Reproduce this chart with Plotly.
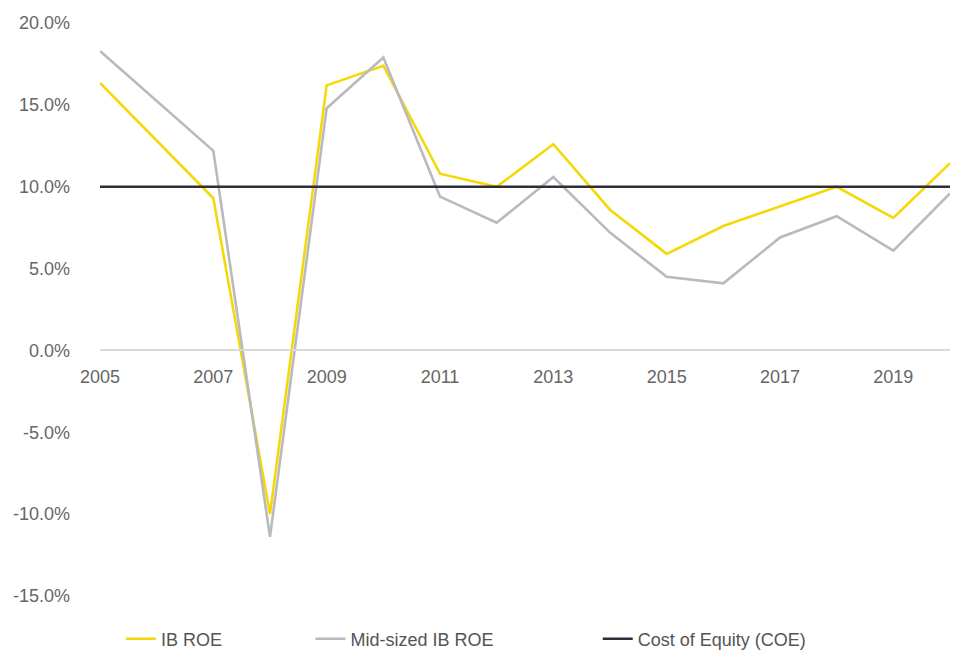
import plotly.graph_objects as go

years = [2005, 2007, 2008, 2009, 2010, 2011, 2012, 2013, 2014, 2015, 2016, 2017, 2018, 2019, 2020]
ib_roe = [16.35, 9.3, -10.0, 16.2, 17.4, 10.8, 10.0, 12.6, 8.6, 5.9, 7.6, 8.8, 10.0, 8.1, 11.45]
mid_roe = [18.3, 12.2, -11.4, 14.8, 17.9, 9.4, 7.8, 10.6, 7.2, 4.5, 4.1, 6.9, 8.2, 6.1, 9.6]
coe_years = [2005, 2020]
coe = [10.0, 10.0]
ytick_vals = [-15, -10, -5, 0, 5, 10, 15, 20]
ytick_text = ["-15.0%", "-10.0%", "-5.0%", "0.0%", "5.0%", "10.0%", "15.0%", "20.0%"]
xtick_vals = [2005, 2007, 2009, 2011, 2013, 2015, 2017, 2019]

YMIN, YMAX = -15.5, 20.5

fig = go.Figure()
fig.add_trace(go.Scatter(x=years, y=ib_roe, mode="lines", name="IB ROE",
                         line=dict(color="#F5D80A", width=2.6), legend="legend"))
fig.add_trace(go.Scatter(x=years, y=mid_roe, mode="lines", name="Mid-sized IB ROE",
                         line=dict(color="#B8BABD", width=2.6), legend="legend2"))
fig.add_trace(go.Scatter(x=coe_years, y=coe, mode="lines", name="Cost of Equity (COE)",
                         line=dict(color="#2E2E38", width=2.6), legend="legend3"))

legend_font = dict(family="Liberation Sans, Arial, sans-serif", size=18, color="#555555")
def leg(x):
    return dict(orientation="h", x=x, xanchor="left", y=1 - 639 / 654, yanchor="middle",
                yref="container", font=legend_font, bgcolor="rgba(0,0,0,0)")

fig.update_layout(
    width=957, height=654,
    margin=dict(l=100, r=7, t=15, b=50, autoexpand=False),
    paper_bgcolor="white", plot_bgcolor="white",
    font=dict(family="Liberation Sans, Arial, sans-serif", color="#666666", size=18),
    xaxis=dict(range=[2005, 2020], tickvals=xtick_vals, showgrid=False, zeroline=False,
               showline=True, linecolor="#DADADA", linewidth=1.5, automargin=False,
               anchor="free", position=(0 - YMIN) / (YMAX - YMIN),
               ticks="", ticklabelstandoff=10, tickfont=dict(size=18, color="#666666")),
    yaxis=dict(range=[YMIN, YMAX], tickvals=ytick_vals, ticktext=ytick_text,
               showgrid=False, zeroline=False, showline=False, ticks="", automargin=False,
               ticklabelstandoff=29, tickfont=dict(size=18, color="#666666")),
    legend=leg(0.0246),
    legend2=leg(0.2476),
    legend3=leg(0.5856),
    showlegend=True,
)

fig.write_html("out.html", config={"displayModeBar": False},
               post_script="document.body.style.margin='0';")
